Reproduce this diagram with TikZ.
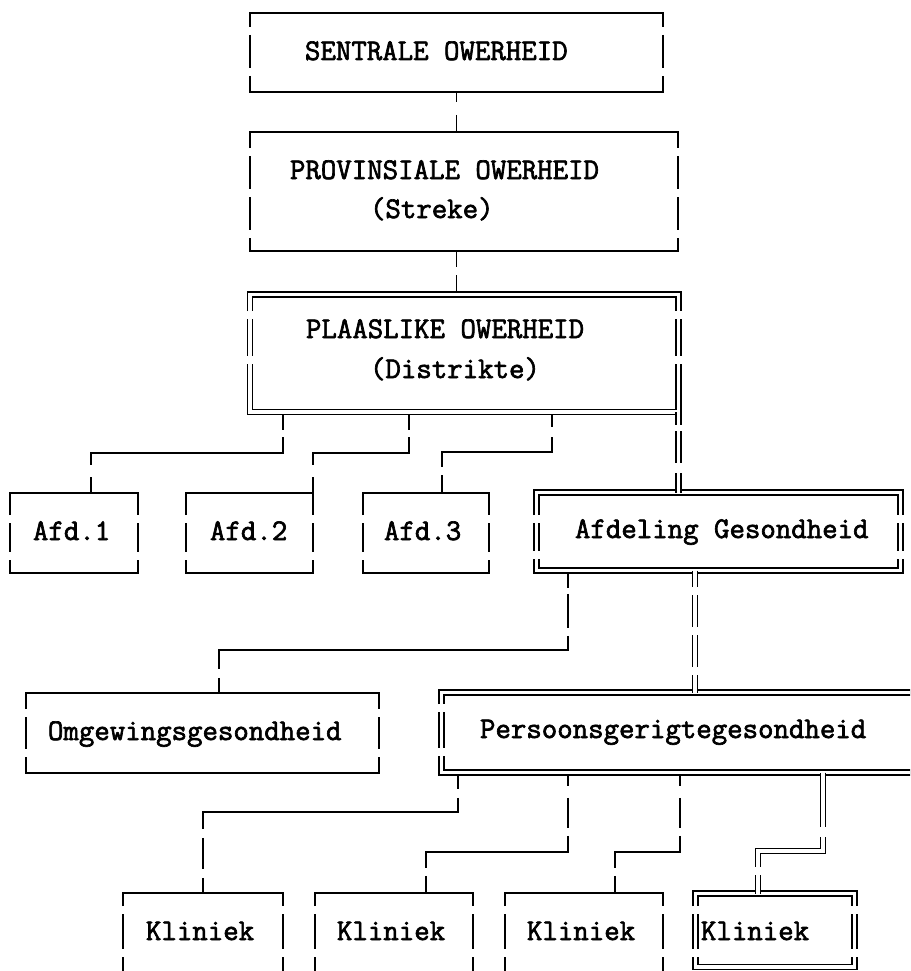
\documentclass[tikz,border=0pt]{standalone}
\usepackage{fontspec}
\newfontfamily\tyfont{Latin Modern Mono}[FakeBold=2.2]
\usetikzlibrary{calc}
\tikzset{
  lnS/.style={draw=black, line width=1.9pt, line join=miter},
  lnD/.style={draw=black, line width=1.5pt, double=white, double distance=3.5pt, line join=miter},
  conn/.style={lnS},
  dconn/.style={lnD, shorten <=-3.25pt, shorten >=-3.25pt},
  boxnode/.style={rectangle, draw=none, inner sep=0pt, outer sep=0pt},
  txt/.style={anchor=base west, inner sep=0pt, outer sep=0pt,
    font=\fontsize{30}{36}\selectfont\tyfont}
}
\def\gh{4}
\newcommand\drawframe[6]{%
  \foreach \g [remember=\g as \gp (initially -9999)] in {#6} {%
    \ifdim\gp pt<-9000pt
      \draw[#1] (#2,\g-\gh) -- (#2,#3) -- (#4,#3) -- (#4,\g-\gh);
    \else
      \draw[#1] (#2,\gp+\gh) -- (#2,\g-\gh);
      \draw[#1] (#4,\gp+\gh) -- (#4,\g-\gh);
    \fi
    \xdef\lastgap{\g}%
  }%
  \draw[#1] (#2,\lastgap+\gh) -- (#2,#5) -- (#4,#5) -- (#4,\lastgap+\gh);
}
\newcommand\boxS[6]{%
  \node[boxnode, minimum width={#4-#2}, minimum height={#5-#3}] (#1) at ({(#2+#4)/2},{(#3+#5)/2}) {};
  \drawframe{lnS}{#2}{#3}{#4}{#5}{#6}}
\newcommand\boxD[6]{%
  \node[boxnode, minimum width={#4-#2+6.5}, minimum height={#5-#3+6.5}] (#1) at ({(#2+#4)/2},{(#3+#5)/2}) {};
  \drawframe{lnD}{#2}{#3}{#4}{#5}{#6}}
\begin{document}
\begin{tikzpicture}[x=1pt,y=-1pt]
\useasboundingbox (0,0) rectangle (910,971);
\fill[white] (0,0) rectangle (910,971);
\clip (0,0) rectangle (910,971);

% boxes
\boxS{A}{250}{13}{663}{92}{31,72}
\boxS{B}{250}{132}{678}{251}{152,193,234}
\boxD{C}{250}{294.5}{678.5}{412}{315,360}
\boxS{D}{10}{493}{138}{573}{519,556}
\boxS{E}{186}{493}{313}{573}{519,556}
\boxS{F}{363}{493}{489}{573}{519,556}
\boxD{G}{536.5}{492.5}{900.5}{570.5}{519,555}
\boxS{H}{26}{693}{379}{773}{713,753}
\boxD{I}{441.5}{692.5}{940}{772.5}{708,752}
\boxS{J}{123}{893}{283}{995}{910,953}
\boxS{K}{315}{893}{473}{995}{910,953}
\boxS{L}{505}{893}{663}{995}{910,953}
\boxD{M}{695.5}{893.5}{854.5}{967}{910,953}

% texts
\node[txt] (t1) at (305,60) {SENTRALE OWERHEID};
\node[txt] (t2) at (290,179) {PROVINSIALE OWERHEID};
\node[txt] (t3) at (370,218) {(Streke)};
\node[txt] (t4) at (306,338) {PLAASLIKE OWERHEID};
\node[txt] (t5) at (370,378) {(Distrikte)};
\node[txt] (t6) at (33,540) {Afd.1};
\node[txt] (t7) at (210,540) {Afd.2};
\node[txt] (t8) at (384,540) {Afd.3};
\node[txt] (t9) at (575,538) {Afdeling Gesondheid};
\node[txt] (t10) at (48,740) {Omgewingsgesondheid};
\node[txt] (t11) at (480,738) {Persoonsgerigtegesondheid};
\node[txt] (t12) at (146,940) {Kliniek};
\node[txt] (t13) at (337,940) {Kliniek};
\node[txt] (t14) at (527,940) {Kliniek};
\node[txt] (t15) at (701,940) {Kliniek};

% connector bends
\coordinate (k1a) at (283,453); \coordinate (k1b) at (91,453);
\coordinate (k2a) at (409,453); \coordinate (k2b) at (313,453);
\coordinate (k3a) at (552,452); \coordinate (k3b) at (442,452);
\coordinate (k4) at (678.5,450);
\coordinate (k5a) at (568,650); \coordinate (k5b) at (219,650);
\coordinate (k6) at (695,630);
\coordinate (k7a) at (458,812); \coordinate (k7b) at (203,812);
\coordinate (k8a) at (568,852); \coordinate (k8b) at (426,852);
\coordinate (k9a) at (680,852); \coordinate (k9b) at (615,852);
\coordinate (k10a) at (823,851); \coordinate (k10b) at (758,851);

% connectors
\draw[conn, dash pattern=on 10pt off 13pt on 100pt] (A.south) -- (A.south |- B.north);
\draw[conn, dash pattern=on 16pt off 8pt on 100pt] (B.south -| A.south) -- (C.north -| A.south);
\draw[conn, dash pattern=on 15pt off 7pt on 220pt off 12pt on 100pt] (C.south -| k1a) -- (k1a) -- (k1b) -- (D.north -| k1b);
\draw[conn, dash pattern=on 15pt off 7pt on 124pt off 12pt on 100pt] (C.south -| k2a) -- (k2a) -- (k2b) -- (E.north east);
\draw[conn, dash pattern=on 12pt off 10pt on 140pt off 8pt on 100pt] (C.south -| k3a) -- (k3a) -- (k3b) -- (F.north -| k3b);
\draw[dconn, dash pattern=on 13pt off 6pt on 32pt off 10pt on 100pt] (C.south -| k4) -- (G.north -| k4);
\draw[conn, dash pattern=on 14pt off 6pt on 34pt off 8pt on 382pt off 9pt on 100pt] (G.south -| k5a) -- (k5a) -- (k5b) -- (H.north -| k5b);
\draw[dconn, dash pattern=on 16.5pt off 8pt on 32pt off 8pt on 32pt off 8pt on 100pt] (G.south -| k6) -- (I.north -| k6);
\draw[conn, dash pattern=on 13pt off 9pt on 286pt off 9pt on 31pt off 9pt on 100pt] (I.south -| k7a) -- (k7a) -- (k7b) -- (J.north -| k7b);
\draw[conn, dash pattern=on 10pt off 12pt on 30pt off 8pt on 174pt off 8pt on 100pt] (I.south -| k8a) -- (k8a) -- (k8b) -- (K.north -| k8b);
\draw[conn, dash pattern=on 10pt off 12pt on 30pt off 8pt on 97pt off 8pt on 100pt] (I.south -| k9a) -- (k9a) -- (k9b) -- (L.north -| k9b);
\draw[dconn, dash pattern=on 54.5pt off 10pt on 95pt off 8pt on 100pt] (I.south -| k10a) -- (k10a) -- (k10b) -- (M.north -| k10b);
\end{tikzpicture}
\end{document}
